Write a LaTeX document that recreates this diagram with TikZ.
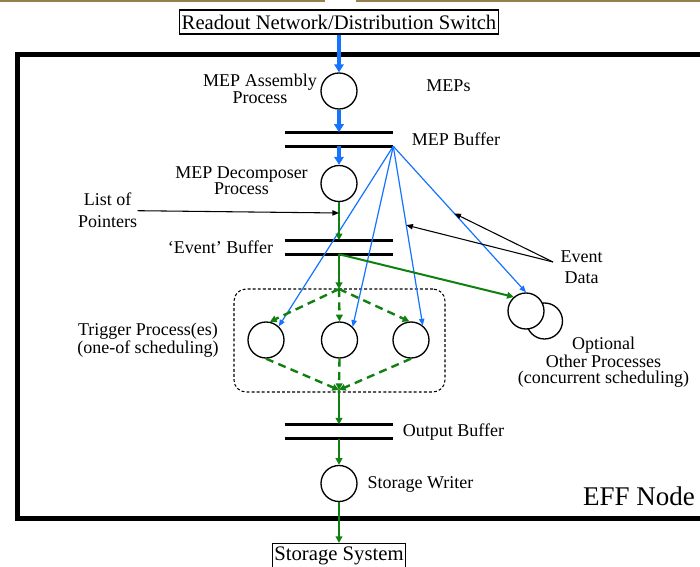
\documentclass[tikz,border=0pt]{standalone}
\usepackage{fontspec}
\setmainfont{Liberation Serif}
\usetikzlibrary{arrows.meta}
\definecolor{flowblue}{RGB}{20,115,255}
\definecolor{flowgreen}{RGB}{16,128,16}
\definecolor{photo}{RGB}{150,128,78}

\begin{document}
\begin{tikzpicture}[x=0.75pt,y=-0.75pt,
  proc/.style={circle,draw,line width=1pt,minimum size=27pt,inner sep=0pt,fill=white},
  buf/.style={minimum width=81pt,minimum height=10.1pt,inner sep=0pt},
  bufline/.style={line width=2.6pt},
  lbl/.style={font=\fontsize{13.5}{11.5}\selectfont,inner sep=0pt,align=center,anchor=base},
  iobox/.style={draw,line width=0.8pt,font=\fontsize{15.5}{18}\selectfont,inner xsep=1.5pt,inner ysep=0pt,minimum height=18pt},
  bigflow/.style={draw=flowblue,line width=3pt,-{Triangle[length=6pt,width=7pt]}},
  ptr/.style={draw=flowblue,line width=0.9pt,-{Triangle[length=5pt,width=4pt]}},
  gflow/.style={draw=flowgreen,line width=1.5pt,-{Triangle[length=5pt,width=5pt]}},
  gdash/.style={gflow,line width=1.8pt,dash pattern=on 6pt off 4pt},
  note/.style={draw,line width=0.8pt,-{Triangle[length=5pt,width=4pt]}},
]
\clip (0,0) rectangle (700,567);
\fill[white] (0,0) rectangle (700,567);

% strip of a photograph along the top edge
\fill[photo] (0,0) rectangle (325,2);
\fill[photo] (356,0) rectangle (700,2);

% node frame
\draw[line width=3.75pt] (730,55) -- (17.5,55) -- (17.5,518) -- (730,518);
\node[font=\fontsize{20.25}{24}\selectfont,inner sep=0pt,anchor=base] (eff) at (639,505) {EFF Node};

% external systems
\node[iobox] (readout) at (339,22) {Readout Network/Distribution Switch};
\node[iobox] (storage) at (339,555.5) {Storage System};

% processes
\node[proc] (asm) at (339,91) {};
\node[proc] (dec) at (339,183.5) {};
\node[proc] (tr1) at (266,340) {};
\node[proc] (tr2) at (339.5,340) {};
\node[proc] (tr3) at (411,340) {};
\node[proc] (opt2) at (544.5,321) {};
\node[proc] (opt1) at (526,311) {};
\node[proc] (writer) at (339,483.5) {};

% trigger group
\node[draw,line width=0.8pt,dash pattern=on 2.2pt off 1.6pt,rounded corners=9pt,
      minimum width=158.25pt,minimum height=77.25pt,inner sep=0pt] (group) at (339.5,340.5) {};

% buffers
\node[buf] (mepbuf) at (339,139.25) {};
\node[buf] (evbuf) at (339,247.25) {};
\node[buf] (outbuf) at (339,431.5) {};
\foreach \b in {mepbuf,evbuf,outbuf}{
  \draw[bufline] (\b.north west) -- (\b.north east);
  \draw[bufline] (\b.south west) -- (\b.south east);
}

% labels (multi-line labels sit on the baseline of their last line)
\node[lbl] (asmlbl) at (260,103.5) {MEP Assembly\\Process};
\node[lbl] (meps) at (448.5,92) {MEPs};
\node[lbl] (mepbuflbl) at (456,146) {MEP Buffer};
\node[lbl,font=\fontsize{13.5}{12}\selectfont] (declbl) at (241.5,194) {MEP Decomposer\\Process};
\node[lbl,font=\fontsize{13.5}{16}\selectfont] (loplbl) at (107.5,227) {List of\\Pointers};
\node[lbl] (evbuflbl) at (220.5,253) {‘Event’ Buffer};
\node[lbl,font=\fontsize{13.5}{15.75}\selectfont] (edlbl) at (581.5,283) {Event\\Data};
\node[lbl,font=\fontsize{13.5}{11.5}\selectfont] (triglbl) at (148,353) {Trigger Process(es)\\(one-of scheduling)};
\node[lbl,font=\fontsize{13.5}{12}\selectfont] (optlbl) at (603.5,383) {Optional\\Other Processes\\(concurrent scheduling)};
\node[lbl] (outbuflbl) at (453.5,436) {Output Buffer};
\node[lbl] (writerlbl) at (420.5,488) {Storage Writer};

% helper points
\coordinate (split) at (339,289);
\coordinate (merge) at (339,390);
\coordinate (lopstart) at (137.5,210.7);
\coordinate (lopend) at (339,213);
\coordinate (edstart) at (553,262);

% MEP flow
\draw[bigflow] (readout.south) -- (asm.north);
\draw[bigflow] (asm.south) -- (mepbuf.north);
\draw[bigflow] (mepbuf.south) -- (dec.north);

% event data fetched from the MEP buffer
\draw[ptr] (mepbuf.south east) -- (tr1.47);
\draw[ptr] (mepbuf.south east) -- (tr2.45);
\draw[ptr] (mepbuf.south east) -- coordinate[pos=0.44] (edto3) (tr3.51);
\draw[ptr] (mepbuf.south east) -- coordinate[pos=0.46] (edtoopt) (opt1.90);

% pointer flow
\draw[gflow] (dec.south) -- (evbuf.north);
\draw[gflow] (evbuf.south) -- (split);
\draw[gflow] (evbuf.south) -- (opt1.131);
\draw[gdash] (split) -- (tr1.78);
\draw[gdash] (split) -- (tr2.north);
\draw[gdash] (split) -- (tr3.95);
\draw[gdash] (tr1.south) -- (merge);
\draw[gdash] (tr2.south) -- (merge);
\draw[gdash] (tr3.south) -- (merge);
\draw[gflow] (merge) -- (outbuf.north);
\draw[gflow] (outbuf.south) -- (writer.north);
\draw[gflow] (writer.south) -- (storage.north);

% annotations
\draw[note] (lopstart) -- (lopend);
\draw[note] (edstart) -- (edtoopt);
\draw[note] (edstart) -- (edto3);
\end{tikzpicture}
\end{document}
